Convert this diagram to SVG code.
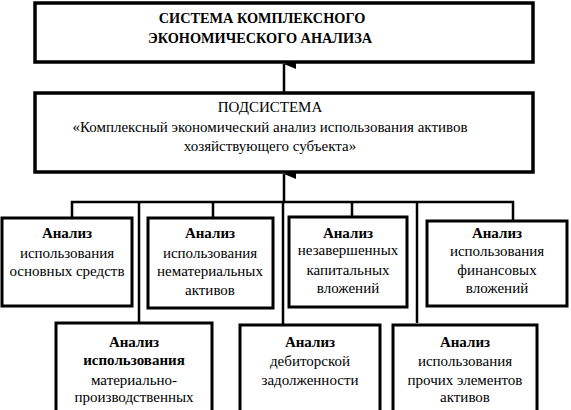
<svg xmlns="http://www.w3.org/2000/svg" width="571" height="410" viewBox="0 0 571 410">
<style>
.box{fill:#fff;stroke:#000;stroke-width:3}
.big{fill:#fff;stroke:#000;stroke-width:3.5}
.ln{fill:none;stroke:#000;stroke-width:2.5}
text{font-size:15px;fill:#000;text-anchor:middle}
.b{font-weight:bold}
.t{font-size:14.3px}
</style>
<defs>
<marker id="ah" viewBox="0 0 10 12" refX="5" refY="0" markerWidth="10" markerHeight="12" markerUnits="userSpaceOnUse" orient="auto-start-reverse">
<path d="M0,12 L5,0 L10,12 Z" fill="#000"/>
</marker>
</defs>
<rect width="571" height="410" fill="#fff"/>
<g id="connectors">
<line class="ln" x1="284" y1="93" x2="284" y2="64" marker-end="url(#ah)"/>
<line class="ln" x1="284" y1="202" x2="284" y2="174" marker-end="url(#ah)"/>
<polyline class="ln" points="72,218 72,202 513,202 513,221"/>
<line class="ln" x1="213" y1="202" x2="213" y2="218"/>
<line class="ln" x1="352" y1="202" x2="352" y2="217"/>
<line class="ln" x1="139" y1="202" x2="139" y2="323"/>
<line class="ln" x1="283" y1="202" x2="283" y2="325"/>
<line class="ln" x1="417" y1="202" x2="417" y2="323"/>
</g>
<g font-family="'Liberation Serif', 'DejaVu Serif', serif">
<g id="system">
<rect class="big" x="35" y="3" width="498" height="59"/>
<text class="b t" x="262" y="23">СИСТЕМА КОМПЛЕКСНОГО</text>
<text class="b t" x="260" y="43">ЭКОНОМИЧЕСКОГО АНАЛИЗА</text>
</g>
<g id="subsystem">
<rect class="big" x="35" y="93" width="498" height="79"/>
<text x="270" y="112">ПОДСИСТЕМА</text>
<text x="270" y="132">«Комплексный экономический анализ использования активов</text>
<text x="270" y="151">хозяйствующего субъекта»</text>
</g>
<g id="n1">
<rect class="box" x="2" y="218" width="130" height="88"/>
<text class="b" x="67" y="238">Анализ</text>
<text x="67" y="258">использования</text>
<text x="67" y="276">основных средств</text>
</g>
<g id="n2">
<rect class="box" x="148" y="218" width="125" height="90"/>
<text class="b" x="210" y="238">Анализ</text>
<text x="210" y="258">использования</text>
<text x="210" y="276">нематериальных</text>
<text x="210" y="295">активов</text>
</g>
<g id="n3">
<rect class="box" x="289" y="217" width="118" height="90"/>
<text class="b" x="348" y="238">Анализ</text>
<text x="348" y="255">незавершенных</text>
<text x="348" y="275">капитальных</text>
<text x="348" y="293">вложений</text>
</g>
<g id="n4">
<rect class="box" x="427" y="221" width="140" height="85"/>
<text class="b" x="497" y="238">Анализ</text>
<text x="497" y="256">использования</text>
<text x="497" y="275">финансовых</text>
<text x="497" y="293">вложений</text>
</g>
<g id="n5">
<rect class="box" x="56" y="323" width="156" height="100"/>
<text class="b" x="134" y="347">Анализ</text>
<text class="b" x="134" y="365">использования</text>
<text x="134" y="385">материально-</text>
<text x="134" y="402">производственных</text>
</g>
<g id="n6">
<rect class="box" x="240" y="325" width="140" height="100"/>
<text class="b" x="310" y="347">Анализ</text>
<text x="310" y="366">дебиторской</text>
<text x="310" y="385">задолженности</text>
</g>
<g id="n7">
<rect class="box" x="393" y="325" width="144" height="100"/>
<text class="b" x="465" y="347">Анализ</text>
<text x="465" y="366">использования</text>
<text x="465" y="385">прочих элементов</text>
<text x="465" y="402">активов</text>
</g>
</g>
</svg>
